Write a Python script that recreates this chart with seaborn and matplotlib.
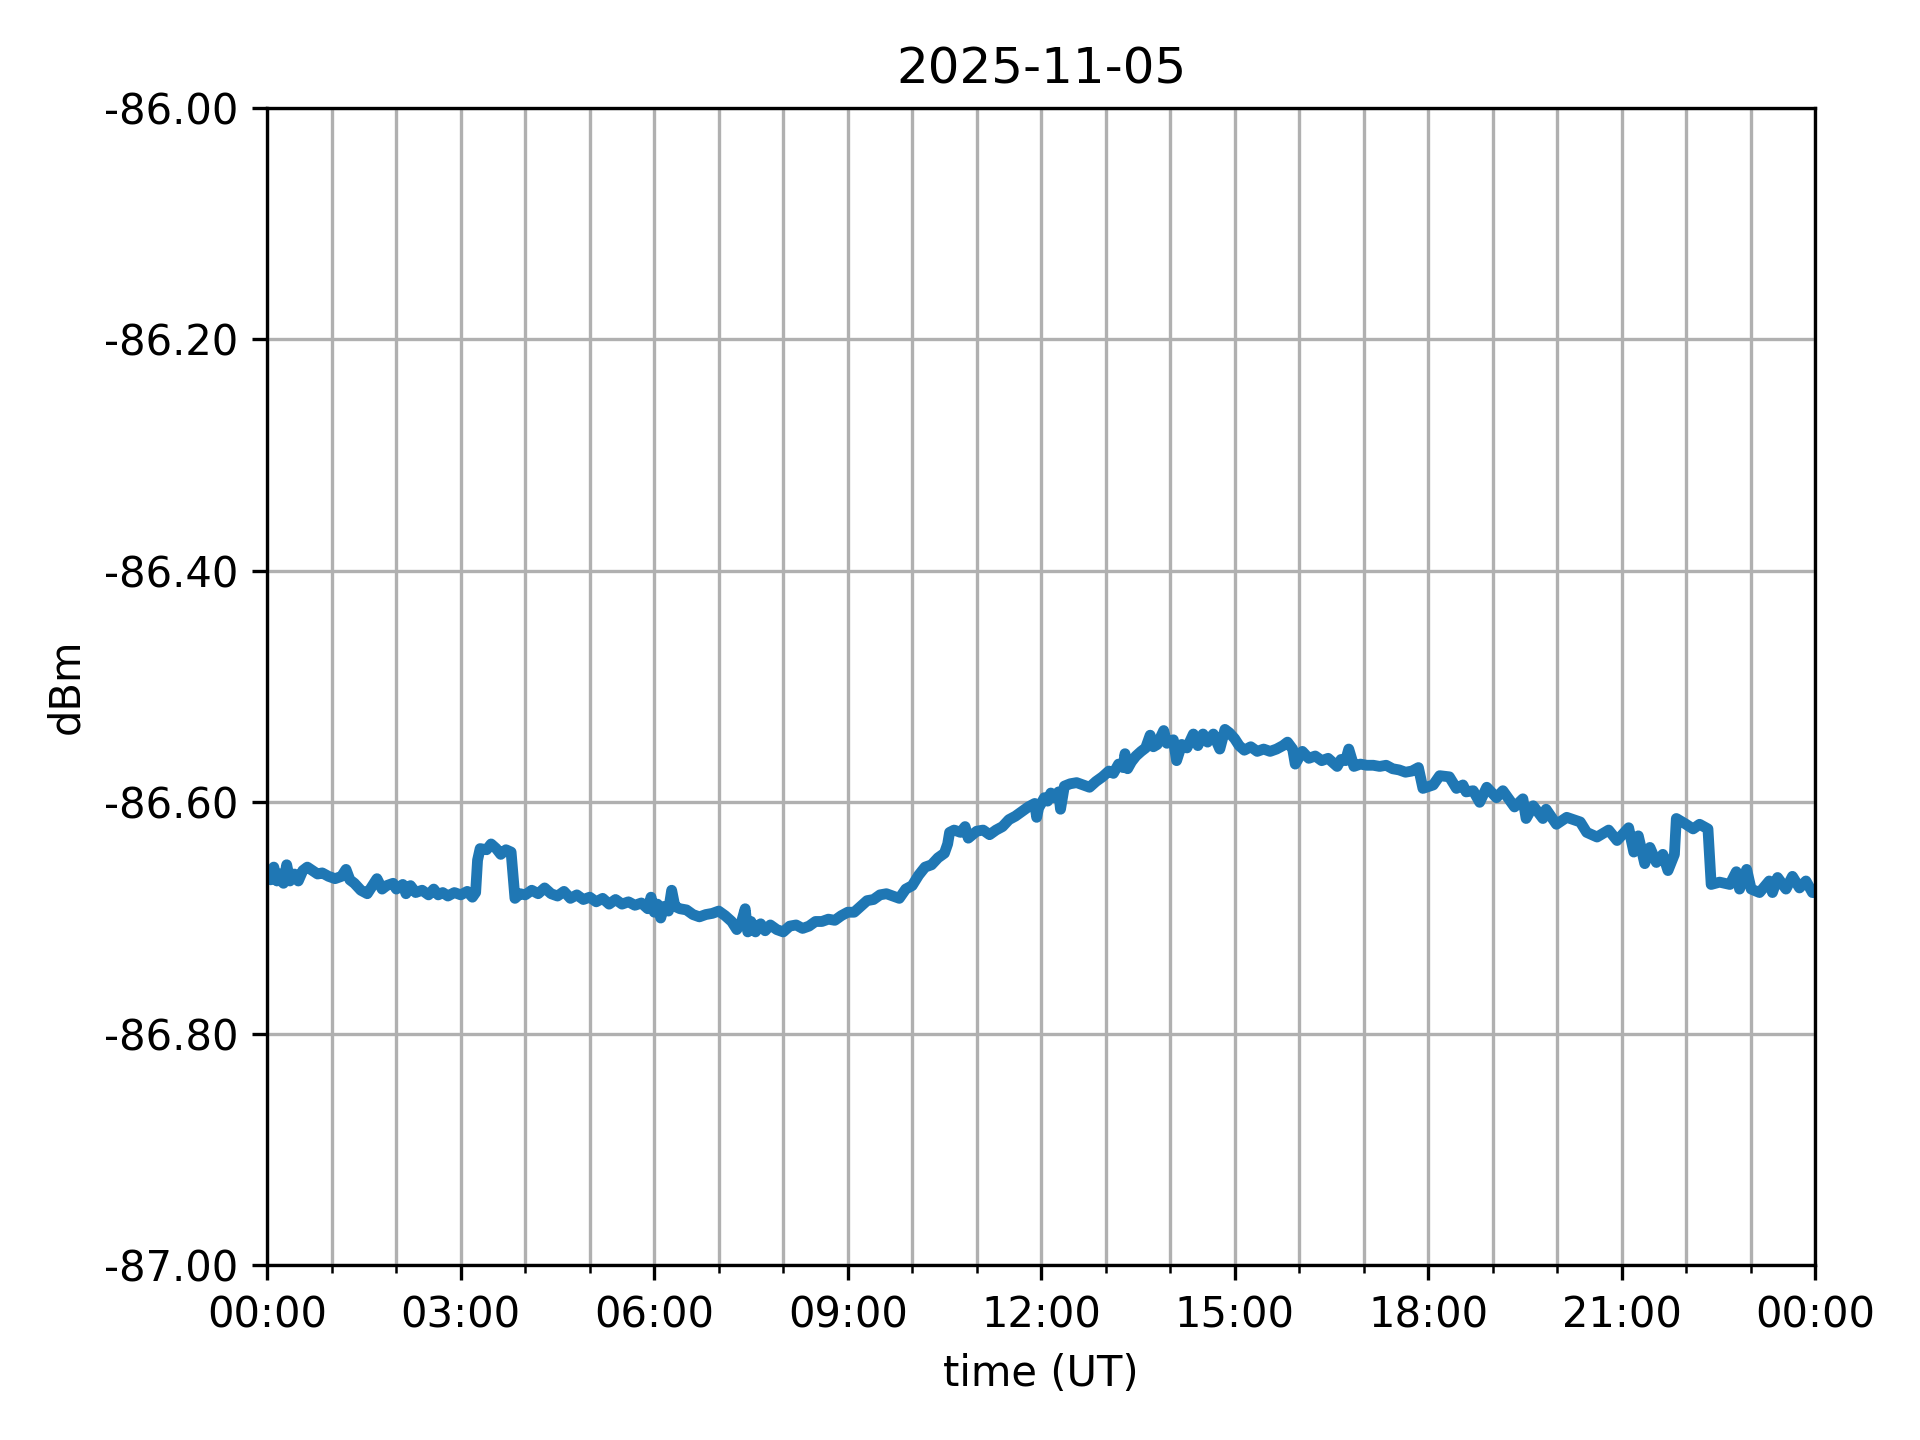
"""
Received power over one day (UT).
"""

import matplotlib
matplotlib.use("Agg")
import matplotlib.pyplot as plt
import matplotlib.dates as mdates
import numpy as np
import pandas as pd
import seaborn as sns

day = "2025-11-05"

# hours since 00:00 UT and the power read at them (dBm)
hours = [
    0.00, 0.05, 0.10, 0.15, 0.20, 0.25, 0.30, 0.35, 0.42, 0.48, 0.55, 0.62, 0.70, 0.78, 0.85, 0.95,
    1.05, 1.15, 1.22, 1.28, 1.35, 1.45, 1.55, 1.62, 1.70, 1.78, 1.85, 1.95, 2.00, 2.10, 2.15, 2.22,
    2.30, 2.40, 2.50, 2.58, 2.65, 2.72, 2.80, 2.90, 3.00, 3.10, 3.18, 3.23, 3.26, 3.30, 3.40, 3.47,
    3.55, 3.62, 3.70, 3.78, 3.84, 3.92, 4.00, 4.10, 4.20, 4.30, 4.40, 4.50, 4.60, 4.70, 4.80, 4.90,
    5.00, 5.10, 5.20, 5.30, 5.40, 5.50, 5.60, 5.70, 5.80, 5.90, 5.95, 6.00,
    6.05, 6.10, 6.15, 6.22, 6.27, 6.32, 6.40, 6.50, 6.60, 6.70, 6.80, 6.90, 7.00, 7.10, 7.20, 7.28,
    7.35, 7.41, 7.45, 7.50, 7.57, 7.65, 7.72, 7.80, 7.90, 8.00, 8.10, 8.20, 8.30, 8.40, 8.50, 8.60,
    8.70, 8.80, 8.90, 9.00, 9.10, 9.20, 9.30, 9.40, 9.50, 9.60, 9.70, 9.80, 9.90, 10.00, 10.10, 10.20,
    10.30, 10.40, 10.50, 10.55, 10.58, 10.65, 10.75, 10.82, 10.87, 11.00, 11.10, 11.20, 11.30, 11.40,
    11.50, 11.60, 11.70, 11.80, 11.90, 11.93, 11.96,
    12.00, 12.05, 12.10, 12.15, 12.20, 12.27, 12.30, 12.36, 12.45, 12.55, 12.65, 12.75, 12.85, 12.95,
    13.05, 13.12, 13.20, 13.27, 13.30, 13.34, 13.40, 13.47, 13.55, 13.62, 13.69, 13.74, 13.80, 13.90,
    13.95, 14.05, 14.10, 14.18, 14.26, 14.36, 14.43, 14.51, 14.58, 14.67, 14.77, 14.85, 14.92, 15.00,
    15.07, 15.15, 15.25, 15.35, 15.45, 15.55, 15.65, 15.75, 15.82, 15.90, 15.94, 16.05, 16.15, 16.25,
    16.35, 16.45, 16.59, 16.65, 16.72, 16.77, 16.85, 16.95, 17.05, 17.15, 17.25, 17.35, 17.45, 17.55,
    17.65, 17.75, 17.85, 17.92, 18.08, 18.18, 18.33, 18.44, 18.54, 18.59, 18.70, 18.80, 18.91, 19.06,
    19.16, 19.34, 19.47, 19.52, 19.63, 19.78, 19.83, 19.99, 20.15, 20.36, 20.46, 20.62, 20.80, 20.93,
    21.11, 21.19, 21.26, 21.36, 21.44, 21.54, 21.64, 21.72, 21.82, 21.85, 22.00, 22.11, 22.21, 22.34,
    22.39, 22.52, 22.68, 22.78, 22.83, 22.94, 23.01, 23.14, 23.29, 23.34, 23.42, 23.55, 23.65, 23.76,
    23.86, 23.96, 24.00,
]

power = [
    -86.660, -86.667, -86.656, -86.668, -86.662, -86.670, -86.654, -86.668, -86.662, -86.668, -86.659,
    -86.656, -86.659, -86.662, -86.661, -86.664, -86.666, -86.664, -86.658, -86.667, -86.670, -86.676,
    -86.679, -86.673, -86.666, -86.675, -86.672, -86.670, -86.675, -86.671, -86.679, -86.672, -86.678,
    -86.676, -86.680, -86.675, -86.680, -86.678, -86.681, -86.678, -86.680, -86.677, -86.682, -86.678,
    -86.650, -86.640, -86.641, -86.636, -86.640, -86.645, -86.641, -86.643, -86.683, -86.679, -86.680,
    -86.676, -86.679, -86.674, -86.679, -86.681, -86.677, -86.683, -86.680, -86.684, -86.682, -86.686,
    -86.683, -86.688, -86.684, -86.688, -86.686, -86.689, -86.687, -86.692, -86.682, -86.695,
    -86.688, -86.700, -86.690, -86.694, -86.676, -86.690, -86.692, -86.693, -86.697, -86.699, -86.697,
    -86.696, -86.694, -86.698, -86.703, -86.710, -86.704, -86.692, -86.712, -86.703, -86.712, -86.705,
    -86.711, -86.706, -86.710, -86.712, -86.707, -86.706, -86.709, -86.707, -86.703, -86.703, -86.701,
    -86.702, -86.698, -86.695, -86.695, -86.690, -86.685, -86.684, -86.680, -86.679, -86.681, -86.683,
    -86.675, -86.672, -86.663, -86.656, -86.654, -86.648, -86.644, -86.636, -86.626, -86.624, -86.626,
    -86.621, -86.631, -86.625, -86.624, -86.628, -86.624, -86.621, -86.615, -86.612, -86.608, -86.604,
    -86.601, -86.613, -86.605,
    -86.601, -86.596, -86.599, -86.592, -86.596, -86.591, -86.606, -86.586, -86.584, -86.583, -86.585,
    -86.587, -86.582, -86.578, -86.573, -86.575, -86.567, -86.570, -86.558, -86.571, -86.565, -86.560,
    -86.556, -86.553, -86.542, -86.552, -86.550, -86.538, -86.549, -86.546, -86.564, -86.550, -86.553,
    -86.541, -86.551, -86.541, -86.548, -86.541, -86.554, -86.537, -86.540, -86.545, -86.551, -86.555,
    -86.552, -86.556, -86.554, -86.556, -86.554, -86.551, -86.548, -86.554, -86.567, -86.556, -86.562,
    -86.560, -86.564, -86.562, -86.569, -86.563, -86.564, -86.554, -86.569, -86.567, -86.568, -86.568,
    -86.569, -86.568, -86.571, -86.572, -86.574, -86.573, -86.570, -86.588, -86.585, -86.577, -86.578,
    -86.588, -86.585, -86.591, -86.590, -86.600, -86.587, -86.596, -86.590, -86.604, -86.597, -86.614,
    -86.603, -86.614, -86.606, -86.619, -86.613, -86.617, -86.626, -86.630, -86.624, -86.633, -86.622,
    -86.643, -86.629, -86.653, -86.639, -86.652, -86.645, -86.659, -86.645, -86.614, -86.619, -86.623,
    -86.619, -86.623, -86.671, -86.669, -86.671, -86.660, -86.675, -86.658, -86.675, -86.678, -86.668,
    -86.678, -86.665, -86.675, -86.664, -86.674, -86.668, -86.678, -86.678,
]

times = pd.Timestamp(day) + pd.to_timedelta(np.array(hours), unit="h")
df = pd.DataFrame({"time": times, "dBm": power})

fig, ax = plt.subplots(figsize=(6.4, 4.8), dpi=300)
sns.lineplot(data=df, x="time", y="dBm", ax=ax, color="#1f77b4", linewidth=2.6)

ax.set_xlim(pd.Timestamp(day), pd.Timestamp(day) + pd.Timedelta(hours=24))
ax.set_ylim(-87.0, -86.0)
ax.xaxis.set_major_locator(mdates.HourLocator(byhour=range(0, 24, 3)))
ax.xaxis.set_minor_locator(mdates.HourLocator())
ax.xaxis.set_major_formatter(mdates.DateFormatter("%H:%M"))
ax.yaxis.set_major_locator(plt.MultipleLocator(0.2))
ax.yaxis.set_major_formatter(plt.FormatStrFormatter("%.2f"))

ax.grid(True, which="major")
ax.xaxis.grid(True, which="minor")

ax.set_title(day)
ax.set_xlabel("time (UT)")
ax.set_ylabel("dBm")

plt.tight_layout()
fig.savefig("out.png", dpi=300)
